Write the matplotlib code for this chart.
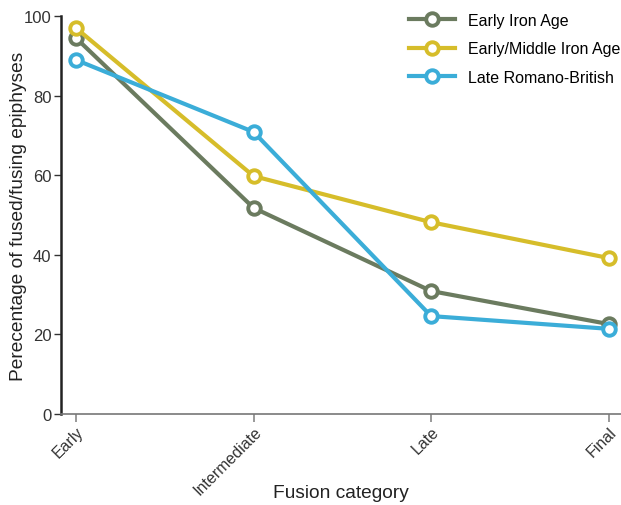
import numpy as np
import matplotlib.pyplot as plt

plt.rcParams["font.family"] = ["Liberation Sans", "DejaVu Sans"]

categories = ["Early", "Intermediate", "Late", "Final"]
series_names = ["Early Iron Age", "Early/Middle Iron Age", "Late Romano-British"]
early_iron_age = [94.5, 51.8, 30.9, 22.6]
early_middle_iron_age = [97.0, 59.8, 48.2, 39.2]
late_romano_british = [89.0, 70.9, 24.6, 21.4]
colors = ["#6b7b5f", "#d6bd2a", "#3badd8"]

fig = plt.figure(figsize=(6.21, 5.06), dpi=100)
ax = fig.add_axes([0.0982, 0.18, 0.9018, 0.786])

x = np.arange(len(categories))
for vals, name, c in zip([early_iron_age, early_middle_iron_age, late_romano_british], series_names, colors):
    ax.plot(x, vals, color=c, lw=3, marker="o", ms=9, mfc="white", mec=c, mew=2.8, label=name)

ax.set_xlim(-0.085, 3.07)
ax.set_ylim(0, 100)
ax.set_yticks([0, 20, 40, 60, 80, 100])
ax.set_xticks(x)
ax.set_xticklabels(categories, rotation=45, ha="right", rotation_mode="anchor", fontsize=11.5, color="#333333")
ax.tick_params(axis="y", labelsize=12, labelcolor="#333333", length=5, width=1, color="#333333", pad=2)
ax.tick_params(axis="x", length=6, width=1.2, color="#888888", pad=1)

ax.spines["top"].set_visible(False)
ax.spines["right"].set_visible(False)
ax.spines["left"].set_linewidth(1.8)
ax.spines["left"].set_color("#222222")
ax.spines["bottom"].set_linewidth(1.2)
ax.spines["bottom"].set_color("#777777")

ax.set_ylabel("Perecentage of fused/fusing epiphyses", fontsize=13.8, color="#222222")
ax.yaxis.set_label_coords(-0.06, 0.5)
ax.set_xlabel("Fusion category", fontsize=13.8, color="#222222", va="center")
ax.xaxis.set_label_coords(0.5, -0.197)

ax.legend(loc="upper right", frameon=False, fontsize=11.5, handlelength=2.9,
          bbox_to_anchor=(1.025, 1.045), labelspacing=0.85, handletextpad=0.8)

fig.savefig("out.png", dpi=100)
